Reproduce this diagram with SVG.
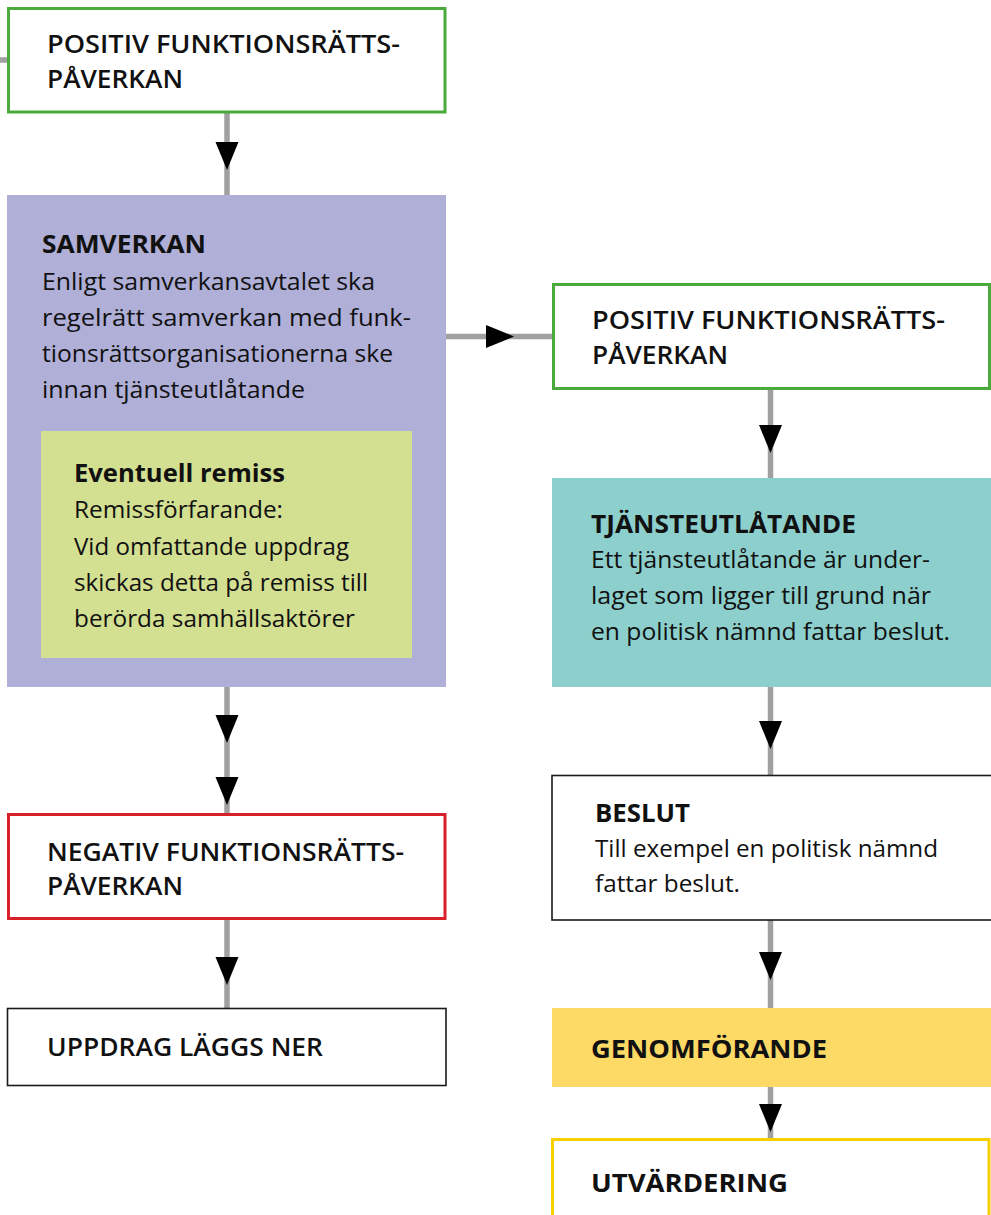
<svg xmlns="http://www.w3.org/2000/svg" xmlns:xlink="http://www.w3.org/1999/xlink" width="991" height="1215" viewBox="0 0 991 1215">
<defs>
<style>
.t{font-family:"Open Sans","Noto Sans","Liberation Sans",sans-serif;fill:#111;}
.h{font-size:25px;font-weight:600;}
.hb{font-size:25px;font-weight:700;}
.b{font-size:24.5px;font-weight:400;}
.ln{stroke:#a0a0a0;stroke-width:5.5;fill:none;}
.ah{fill:#000;}
.green{fill:#fff;stroke:#4aaa3c;stroke-width:3;}
.red{fill:#fff;stroke:#d7202a;stroke-width:3;}
.black{fill:#fff;stroke:#1a1a1a;stroke-width:1.6;}
.yel{fill:#fff;stroke:#f8d000;stroke-width:3;}
</style>
<path id="ad" d="M-11.5,-28 L11.5,-28 L0,0 Z"/>
</defs>
<rect width="991" height="1215" fill="#fff"/>

<g id="connectors">
<line class="ln" x1="0" y1="60" x2="8" y2="60"/>
<line class="ln" x1="227" y1="113" x2="227" y2="196"/>
<use xlink:href="#ad" class="ah" transform="translate(227,170)"/>
<line class="ln" x1="446" y1="336.5" x2="552" y2="336.5"/>
<use xlink:href="#ad" class="ah" transform="translate(514,336.5) rotate(-90)"/>
<line class="ln" x1="770.5" y1="390" x2="770.5" y2="479"/>
<use xlink:href="#ad" class="ah" transform="translate(770.5,453)"/>
<line class="ln" x1="227" y1="686" x2="227" y2="814"/>
<use xlink:href="#ad" class="ah" transform="translate(227,743)"/>
<use xlink:href="#ad" class="ah" transform="translate(227,805)"/>
<line class="ln" x1="770.5" y1="686" x2="770.5" y2="776"/>
<use xlink:href="#ad" class="ah" transform="translate(770.5,749)"/>
<line class="ln" x1="227" y1="919" x2="227" y2="1009"/>
<use xlink:href="#ad" class="ah" transform="translate(227,985)"/>
<line class="ln" x1="770.5" y1="919" x2="770.5" y2="1009"/>
<use xlink:href="#ad" class="ah" transform="translate(770.5,980)"/>
<line class="ln" x1="770.5" y1="1086" x2="770.5" y2="1139"/>
<use xlink:href="#ad" class="ah" transform="translate(770.5,1132)"/>
</g>

<g id="n-positiv1">
<rect class="green" x="8.5" y="8.5" width="436.5" height="103.5"/>
<text class="t h" x="47" y="53" textLength="353" lengthAdjust="spacingAndGlyphs">POSITIV FUNKTIONSRÄTTS-</text>
<text class="t h" x="47" y="88" textLength="136" lengthAdjust="spacingAndGlyphs">PÅVERKAN</text>
</g>

<g id="n-samverkan">
<rect x="7" y="195" width="439" height="492" fill="#afafd7"/>
<text class="t hb" x="42" y="253" textLength="164" lengthAdjust="spacingAndGlyphs">SAMVERKAN</text>
<text class="t b" x="42" y="290" textLength="333" lengthAdjust="spacingAndGlyphs">Enligt samverkansavtalet ska</text>
<text class="t b" x="42" y="326" textLength="369" lengthAdjust="spacingAndGlyphs">regelrätt samverkan med funk-</text>
<text class="t b" x="42" y="362" textLength="351" lengthAdjust="spacingAndGlyphs">tionsrättsorganisationerna ske</text>
<text class="t b" x="42" y="398" textLength="263" lengthAdjust="spacingAndGlyphs">innan tjänsteutlåtande</text>
</g>

<g id="n-remiss">
<rect x="41" y="431" width="371" height="227" fill="#d3df91"/>
<text class="t hb" x="74" y="482" textLength="211" lengthAdjust="spacingAndGlyphs">Eventuell remiss</text>
<text class="t b" x="74" y="518" textLength="209" lengthAdjust="spacingAndGlyphs">Remissförfarande:</text>
<text class="t b" x="74" y="555" textLength="275" lengthAdjust="spacingAndGlyphs">Vid omfattande uppdrag</text>
<text class="t b" x="74" y="591" textLength="294" lengthAdjust="spacingAndGlyphs">skickas detta på remiss till</text>
<text class="t b" x="74" y="627" textLength="281" lengthAdjust="spacingAndGlyphs">berörda samhällsaktörer</text>
</g>

<g id="n-positiv2">
<rect class="green" x="553.5" y="284.5" width="436" height="104"/>
<text class="t h" x="592" y="329" textLength="353" lengthAdjust="spacingAndGlyphs">POSITIV FUNKTIONSRÄTTS-</text>
<text class="t h" x="592" y="364" textLength="136" lengthAdjust="spacingAndGlyphs">PÅVERKAN</text>
</g>

<g id="n-tjansteutlatande">
<rect x="552" y="478" width="439" height="209" fill="#8ccfcc"/>
<text class="t hb" x="591" y="533" textLength="265" lengthAdjust="spacingAndGlyphs">TJÄNSTEUTLÅTANDE</text>
<text class="t b" x="591" y="568" textLength="339" lengthAdjust="spacingAndGlyphs">Ett tjänsteutlåtande är under-</text>
<text class="t b" x="591" y="604" textLength="340" lengthAdjust="spacingAndGlyphs">laget som ligger till grund när</text>
<text class="t b" x="591" y="640" textLength="359" lengthAdjust="spacingAndGlyphs">en politisk nämnd fattar beslut.</text>
</g>

<g id="n-beslut">
<rect class="black" x="552" y="775.5" width="445" height="144.5"/>
<text class="t hb" x="595" y="822" textLength="95" lengthAdjust="spacingAndGlyphs">BESLUT</text>
<text class="t b" x="595" y="857" textLength="343" lengthAdjust="spacingAndGlyphs">Till exempel en politisk nämnd</text>
<text class="t b" x="595" y="892" textLength="145" lengthAdjust="spacingAndGlyphs">fattar beslut.</text>
</g>

<g id="n-genomforande">
<rect x="552" y="1008" width="439" height="79" fill="#fdd966"/>
<text class="t hb" x="591" y="1058" textLength="236" lengthAdjust="spacingAndGlyphs">GENOMFÖRANDE</text>
</g>

<g id="n-utvardering">
<rect class="yel" x="552.5" y="1139.5" width="436.5" height="90"/>
<text class="t hb" x="591" y="1192" textLength="197" lengthAdjust="spacingAndGlyphs">UTVÄRDERING</text>
</g>

<g id="n-negativ">
<rect class="red" x="8.5" y="814.5" width="436.5" height="104"/>
<text class="t h" x="47" y="861" textLength="357" lengthAdjust="spacingAndGlyphs">NEGATIV FUNKTIONSRÄTTS-</text>
<text class="t h" x="47" y="895" textLength="136" lengthAdjust="spacingAndGlyphs">PÅVERKAN</text>
</g>

<g id="n-uppdrag">
<rect class="black" x="7.5" y="1008.5" width="438.5" height="77"/>
<text class="t h" x="47" y="1056" textLength="276" lengthAdjust="spacingAndGlyphs">UPPDRAG LÄGGS NER</text>
</g>
</svg>
